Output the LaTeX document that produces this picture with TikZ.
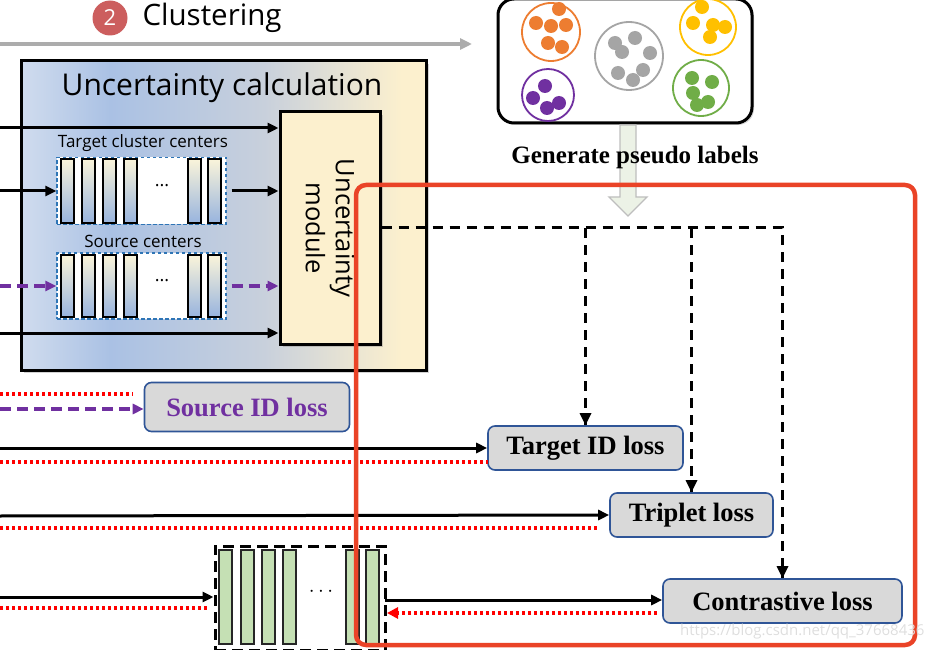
\documentclass[tikz,border=0pt]{standalone}
\usepackage{fontspec}
\setmainfont{Liberation Serif}
\setsansfont{Open Sans}
\usetikzlibrary{arrows.meta,shadows}

\definecolor{badgered}{RGB}{204,94,94}
\definecolor{linegray}{RGB}{172,172,172}
\definecolor{uncA}{RGB}{208,220,238}
\definecolor{uncB}{RGB}{170,193,228}
\definecolor{uncC}{RGB}{200,208,220}
\definecolor{uncD}{RGB}{252,240,206}
\definecolor{modyellow}{RGB}{252,240,206}
\definecolor{barA}{RGB}{250,244,218}
\definecolor{barB}{RGB}{152,180,222}
\definecolor{cenblue}{RGB}{46,117,182}
\definecolor{purp}{RGB}{112,48,160}
\definecolor{lossgray}{RGB}{217,217,217}
\definecolor{lossblue}{RGB}{47,85,151}
\definecolor{featgreen}{RGB}{197,224,180}
\definecolor{framered}{RGB}{234,67,39}
\definecolor{orng}{RGB}{237,125,49}
\definecolor{clgray}{RGB}{165,165,165}
\definecolor{clyellow}{RGB}{255,192,0}
\definecolor{clgreen}{RGB}{112,173,71}
\definecolor{arrgreen}{RGB}{236,242,230}
\definecolor{arrgray}{RGB}{190,190,190}
\definecolor{wmgray}{RGB}{222,222,222}

\pgfdeclarehorizontalshading{uncshade}{100bp}{color(0bp)=(uncA); color(25bp)=(uncA);
  color(36bp)=(uncB); color(55bp)=(uncC); color(72bp)=(uncD); color(100bp)=(uncD)}

\newcommand\lossfont{\fontsize{26.5}{30}\selectfont\bfseries}

\begin{document}
\begin{tikzpicture}[x=1pt, y=-1pt,
  arr/.style={line width=3pt, -{Triangle[length=11pt,width=10pt]}},
  purarr/.style={draw=purp, line width=3.2pt, dash pattern=on 11pt off 6pt, -{Triangle[length=11pt,width=10pt]}},
  reddot/.style={draw=red, line width=3.2pt, dash pattern=on 3pt off 3pt},
  blkdash/.style={line width=3pt, dash pattern=on 10pt off 7pt},
  loss/.style={draw=lossblue, fill=lossgray, line width=1.6pt, rounded corners=7pt, font=\lossfont},
  bar/.style={draw=black, line width=1.4pt, top color=barA, bottom color=barB},
  gbar/.style={draw=black!85, line width=1.4pt, fill=featgreen},
  cbox/.style={draw=cenblue, dash pattern=on 3.5pt off 2.5pt, line width=1.4pt, fill=white},
  ring/.style={line width=1.8pt, fill=white}
]
\useasboundingbox (0,0) rectangle (938,650);

% clustering step
\node[circle, fill=badgered, text=white, minimum size=35pt, inner sep=0pt,
  font=\sffamily\fontsize{22}{24}\selectfont] (num) at (110,18) {2};
\node[anchor=west, font=\sffamily\fontsize{29.5}{32}\selectfont] (clus) at (139,18) {Clustering};
\coordinate (gs) at (0,44);
\coordinate (ge) at (472,44);
\draw[draw=linegray, line width=3.4pt, -{Triangle[length=12pt,width=11pt]}] (gs) -- (ge);

% clusters
\node[draw, line width=3pt, rounded corners=16pt, minimum width=254pt, minimum height=124pt,
  drop shadow={opacity=0.3, shadow xshift=2pt, shadow yshift=-2pt}, fill=white] (clu) at (625,61) {};
\draw[ring, draw=orng] (551,32) circle[radius=29];
\foreach \p in {(536,23),(559,9),(551,26),(566,25),(548,43),(562,47)} \fill[orng] \p circle[radius=7];
\draw[ring, draw=clgray] (629,56) circle[radius=34];
\foreach \p in {(615,43),(622,52),(635,38),(650,53),(643,70),(633,80),(618,73)} \fill[clgray] \p circle[radius=7];
\draw[ring, draw=clyellow] (708,27) circle[radius=28];
\foreach \p in {(702,7),(693,23),(713,25),(725,27),(710,37)} \fill[clyellow] \p circle[radius=7];
\draw[ring, draw=purp] (548,95) circle[radius=26];
\foreach \p in {(545,86),(533,98),(547,108),(559,103)} \fill[purp] \p circle[radius=7];
\draw[ring, draw=clgreen] (701,88) circle[radius=28];
\foreach \p in {(692,78),(712,82),(693,93),(697,105),(708,102)} \fill[clgreen] \p circle[radius=7];

% pseudo label arrow
\draw[fill=arrgreen, draw=arrgray, line width=1.4pt] (620,125) -- (636,125) -- (636,197) -- (647,197)
  -- (628,216) -- (609,197) -- (620,197) -- cycle;
\node[font=\fontsize{25}{28}\selectfont\bfseries] (gen) at (635,157) {Generate pseudo labels};

% uncertainty calculation
\node[draw, line width=3pt, shading=uncshade, minimum width=405pt, minimum height=309pt,
  drop shadow={opacity=0.35, shadow xshift=3pt, shadow yshift=-3pt}] (unc) at (223.5,215.5) {};
\node[font=\sffamily\fontsize{30}{34}\selectfont] (unctitle) at (222,88) {Uncertainty calculation};
\node[draw, line width=3pt, fill=modyellow, minimum width=100pt, minimum height=232pt,
  drop shadow={opacity=0.35, shadow xshift=3pt, shadow yshift=-3pt}] (mod) at (330,228) {};
\node[rotate=-90, align=center, font=\sffamily\fontsize{25.5}{30}\selectfont] (modtxt) at (mod.center) {Uncertainty\\module};

\node[font=\sffamily\fontsize{17}{20}\selectfont] (tgtlab) at (143,143) {Target cluster centers};
\node[cbox, minimum width=169pt, minimum height=67pt] (tgt) at (141.5,191) {};
\node[font=\sffamily\fontsize{17}{20}\selectfont] (srclab) at (143,241) {Source centers};
\node[cbox, minimum width=169pt, minimum height=66pt] (src) at (141.5,286) {};
\foreach \x in {61,82,103,124,188,208} {
  \draw[bar] (\x,159) rectangle ++(13,64);
  \draw[bar] (\x,255) rectangle ++(13,62);
}
\node[font=\sffamily\fontsize{18}{20}\selectfont] (tdots) at (162,186) {...};
\node[font=\sffamily\fontsize{18}{20}\selectfont] (sdots) at (162,281) {...};

\coordinate (in1) at (0,128);
\coordinate (in2) at (0,191);
\coordinate (in3) at (0,286);
\coordinate (in4) at (0,333);
\draw[arr] (in1) -- (in1 -| mod.west);
\draw[arr] (in2) -- (tgt.west);
\draw[arr, shorten <=5pt] (tgt.east) -- (tgt.east -| mod.west);
\draw[purarr] (in3) -- (src.west);
\draw[purarr, shorten <=5pt] (src.east) -- (src.east -| mod.west);
\draw[arr] (in4) -- (in4 -| mod.west);

% losses
\node[loss, text=purp, minimum width=205pt, minimum height=49pt] (sid) at (247,407) {Source ID loss};
\node[loss, minimum width=195pt, minimum height=44pt] (tid) at (585.5,448) {Target ID loss};
\node[loss, minimum width=163pt, minimum height=44pt] (trip) at (691.5,515) {Triplet loss};
\node[loss, minimum width=239pt, minimum height=44pt] (closs) at (782.5,601) {Contrastive loss};

\draw[blkdash] (mod.east) -| (closs.north);
\draw[blkdash] (tid.north |- mod.east) -- (tid.north);
\draw[blkdash] (trip.north |- mod.east) -- (trip.north);
\foreach \n in {tid,trip,closs}
  \fill (\n.north) -- ++(-6,-12) -- ++(12,0) -- cycle;

\coordinate (r1) at (0,394);
\coordinate (r1e) at (133,394);
\coordinate (p1) at (0,409);
\coordinate (b2) at (0,448);
\coordinate (r2) at (0,462);
\coordinate (r2e) at (488,462);
\coordinate (b3) at (0,516);
\coordinate (r3) at (0,528);
\coordinate (r3e) at (598,528);
\coordinate (b4) at (0,597);
\coordinate (r4) at (0,608);
\coordinate (r4e) at (208,608);
\draw[reddot] (r1) -- (r1e);
\draw[purarr] (p1) -- (sid.west |- p1);
\draw[arr] (b2) -- (tid.west);
\draw[reddot] (r2) -- (r2e);
\draw[arr] (b3) -- (trip.west);
\draw[reddot] (r3) -- (r3e);

% features
\node[draw, line width=3pt, dash pattern=on 11pt off 6pt, minimum width=170pt, minimum height=104pt] (feat) at (300,598) {};
\foreach \x in {219,241,262,283,346,366}
  \draw[gbar] (\x,550) rectangle ++(13,94);
\node[font=\fontsize{22}{24}\selectfont] (fdots) at (321,592) {$\cdots$};
\draw[arr] (b4) -- (feat.west |- b4);
\draw[reddot] (r4) -- (r4e);
\coordinate (fo) at (385,600);
\coordinate (fb) at (387,613);
\coordinate (cb) at (657,613);
\draw[arr] (fo) -- (closs.west |- fo);
\draw[reddot, -{Triangle[length=11pt,width=11pt]}] (cb) -- (fb);

% target domain frame
\draw[draw=framered, line width=4.5pt, rounded corners=10pt] (356,185) rectangle (915,645);

\node[anchor=east, text=wmgray, font=\sffamily\fontsize{15}{17}\selectfont] (wm) at (928,632) {https://blog.csdn.net/qq\_37668436};
\end{tikzpicture}
\end{document}
